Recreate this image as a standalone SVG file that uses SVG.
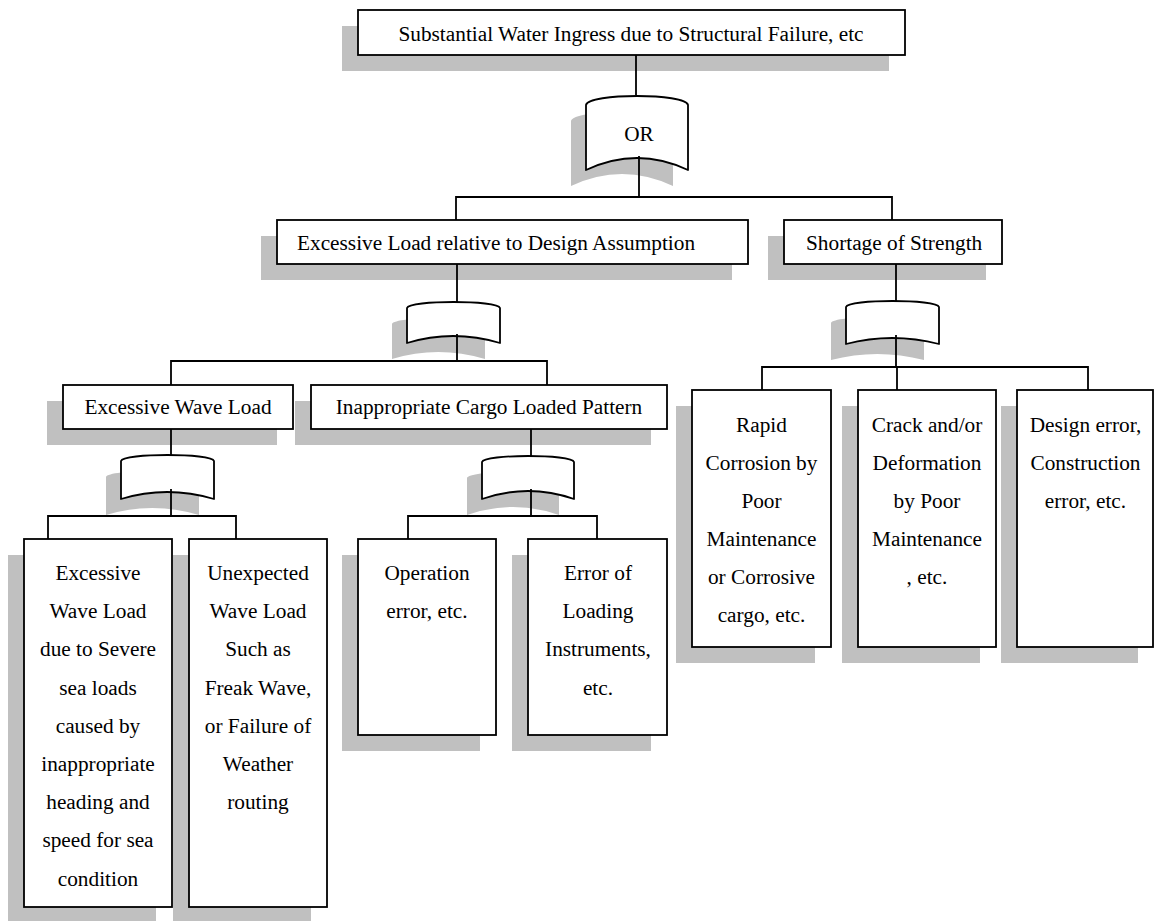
<svg xmlns="http://www.w3.org/2000/svg" width="1155" height="921" viewBox="0 0 1155 921">
<style>
.sh{fill:#c0c0c0;stroke:none}
.bx{fill:#fff;stroke:#000;stroke-width:1.8}
.gt{fill:#fff;stroke:#000;stroke-width:1.8;stroke-linejoin:round}
.t{font-family:"Liberation Serif","Times New Roman",serif;font-size:21.3px;fill:#000}
.c{text-anchor:middle}
.ln{stroke:#000;stroke-width:1.8;fill:none}
</style>
<rect width="1155" height="921" fill="#fff"/>

<g id="top">
<rect class="sh" x="342" y="26" width="547" height="45"/>
<rect class="bx" x="358" y="10" width="547" height="45"/>
<text class="t c" x="631" y="41">Substantial Water Ingress due to Structural Failure, etc</text>
</g>

<g id="gate-or">
<path class="sh" d="M571,121 C573,109 671,109 673,121 L673,186 Q622,162 571,186 Z"/>
<path class="gt" d="M586,105 C588,93 686,93 688,105 L688,170 Q637,146 586,170 Z"/>
<text class="t c" x="639" y="141">OR</text>
</g>

<g id="excessive-load">
<rect class="sh" x="261" y="236" width="471" height="44"/>
<rect class="bx" x="277" y="220" width="471" height="44"/>
<text class="t" x="297" y="250">Excessive Load relative to Design Assumption</text>
</g>

<g id="shortage">
<rect class="sh" x="768" y="236" width="218" height="44"/>
<rect class="bx" x="784" y="220" width="218" height="44"/>
<text class="t" x="806" y="250">Shortage of Strength</text>
</g>

<g id="gate-load">
<path class="sh" d="M392,324 C394,316 483,316 485,324 L485,359 Q438,345 392,359 Z"/>
<path class="gt" d="M407,308 C409,300 498,300 500,308 L500,343 Q453,329 407,343 Z"/>
</g>

<g id="gate-strength">
<path class="sh" d="M831,323 C833,315 922,315 924,323 L924,360 Q877,348 831,360 Z"/>
<path class="gt" d="M846,307 C848,299 937,299 939,307 L939,344 Q892,332 846,344 Z"/>
</g>

<g id="wave-load">
<rect class="sh" x="47" y="401" width="230" height="44"/>
<rect class="bx" x="63" y="385" width="230" height="44"/>
<text class="t c" x="178" y="414">Excessive Wave Load</text>
</g>

<g id="cargo-pattern">
<rect class="sh" x="295" y="401" width="356" height="44"/>
<rect class="bx" x="311" y="385" width="356" height="44"/>
<text class="t c" x="489" y="414">Inappropriate Cargo Loaded Pattern</text>
</g>

<g id="gate-wave">
<path class="sh" d="M106,477 C108,469 197,469 199,477 L199,515 Q152,501 106,515 Z"/>
<path class="gt" d="M121,461 C123,453 212,453 214,461 L214,499 Q167,485 121,499 Z"/>
</g>

<g id="gate-cargo">
<path class="sh" d="M467,478 C469,470 557,470 559,478 L559,515 Q513,499 467,515 Z"/>
<path class="gt" d="M482,462 C484,454 572,454 574,462 L574,499 Q528,483 482,499 Z"/>
</g>

<g id="leaf-severe">
<rect class="sh" x="8" y="555" width="148" height="368"/>
<rect class="bx" x="24" y="539" width="148" height="368"/>
<text class="t c" x="98"><tspan x="98" y="580">Excessive</tspan><tspan x="98" y="618.2">Wave Load</tspan><tspan x="98" y="656.4">due to Severe</tspan><tspan x="98" y="694.6">sea loads</tspan><tspan x="98" y="732.8">caused by</tspan><tspan x="98" y="771">inappropriate</tspan><tspan x="98" y="809.2">heading and</tspan><tspan x="98" y="847.4">speed for sea</tspan><tspan x="98" y="885.6">condition</tspan></text>
</g>

<g id="leaf-freak">
<rect class="sh" x="173" y="555" width="138" height="368"/>
<rect class="bx" x="189" y="539" width="138" height="368"/>
<text class="t c" x="258"><tspan x="258" y="580">Unexpected</tspan><tspan x="258" y="618.2">Wave Load</tspan><tspan x="258" y="656.4">Such as</tspan><tspan x="258" y="694.6">Freak Wave,</tspan><tspan x="258" y="732.8">or Failure of</tspan><tspan x="258" y="771">Weather</tspan><tspan x="258" y="809.2">routing</tspan></text>
</g>

<g id="leaf-operation">
<rect class="sh" x="342" y="555" width="138" height="196"/>
<rect class="bx" x="358" y="539" width="138" height="196"/>
<text class="t c" x="427"><tspan x="427" y="580">Operation</tspan><tspan x="427" y="618.2">error, etc.</tspan></text>
</g>

<g id="leaf-instruments">
<rect class="sh" x="512" y="555" width="139" height="196"/>
<rect class="bx" x="528" y="539" width="139" height="196"/>
<text class="t c" x="598"><tspan x="598" y="580">Error of</tspan><tspan x="598" y="618.2">Loading</tspan><tspan x="598" y="656.4">Instruments,</tspan><tspan x="598" y="694.6">etc.</tspan></text>
</g>

<g id="leaf-corrosion">
<rect class="sh" x="676" y="406" width="139" height="257"/>
<rect class="bx" x="692" y="390" width="139" height="257"/>
<text class="t c" x="761.5"><tspan x="761.5" y="432">Rapid</tspan><tspan x="761.5" y="470">Corrosion by</tspan><tspan x="761.5" y="508">Poor</tspan><tspan x="761.5" y="546">Maintenance</tspan><tspan x="761.5" y="584">or Corrosive</tspan><tspan x="761.5" y="622">cargo, etc.</tspan></text>
</g>

<g id="leaf-crack">
<rect class="sh" x="842" y="406" width="138" height="257"/>
<rect class="bx" x="858" y="390" width="138" height="257"/>
<text class="t c" x="927"><tspan x="927" y="432">Crack and/or</tspan><tspan x="927" y="470">Deformation</tspan><tspan x="927" y="508">by Poor</tspan><tspan x="927" y="546">Maintenance</tspan><tspan x="927" y="584">, etc.</tspan></text>
</g>

<g id="leaf-design">
<rect class="sh" x="1001" y="406" width="137" height="257"/>
<rect class="bx" x="1017" y="390" width="136" height="257"/>
<text class="t c" x="1085.5"><tspan x="1085.5" y="432">Design error,</tspan><tspan x="1085.5" y="470">Construction</tspan><tspan x="1085.5" y="508">error, etc.</tspan></text>
</g>

<g id="connectors" class="ln">
<path class="ln" d="M636,55 V95"/>
<path class="ln" d="M639,156 V197 M456,220 V197 H892 V220"/>
<path class="ln" d="M457,264 V302"/>
<path class="ln" d="M457,334 V361 M171,385 V361 H547 V385"/>
<path class="ln" d="M896,264 V301"/>
<path class="ln" d="M896,335 V367 M762,390 V367 H1088 V390 M897,367 V390"/>
<path class="ln" d="M171,429 V455"/>
<path class="ln" d="M171,489 V516 M48,539 V516 H236 V539"/>
<path class="ln" d="M531,429 V456"/>
<path class="ln" d="M531,489 V516 M408,539 V516 H597 V539"/>
</g>
</svg>
